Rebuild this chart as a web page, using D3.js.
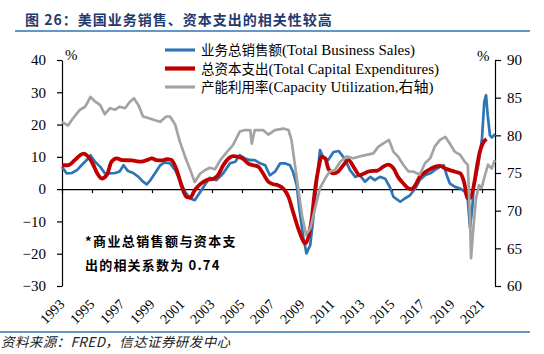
<!DOCTYPE html>
<html>
<head>
<meta charset="utf-8">
<title>美国业务销售、资本支出的相关性较高</title>
<script src="https://d3js.org/d3.v7.min.js"></script>
<style>
  body { margin: 0; background: #fff; }
  .axis text { font-family: "Liberation Serif", "Noto Sans CJK SC", serif; font-size: 15px; fill: #000; }
  .axis path, .axis line { stroke: #000; stroke-width: 1.2px; }
  .legend text { font-family: "Liberation Serif", "Noto Sans CJK SC", serif; font-size: 15px; }
</style>
</head>
<body>
<svg id="chart" width="544" height="354"></svg>
<script>
// 业务总销售额 同比 (%), 左轴
var salesYears = [1993.0,1993.3,1993.65,1994.0,1994.3,1994.65,1994.9,1995.2,1995.55,1995.85,1996.2,1996.55,1996.85,1997.1,1997.4,1997.75,1998.1,1998.4,1998.65,1998.9,1999.2,1999.55,1999.85,2000.2,2000.55,2000.85,2001.2,2001.55,2001.85,2002.2,2002.55,2002.85,2003.3,2003.75,2004.2,2004.55,2004.85,2005.2,2005.55,2005.85,2006.2,2006.55,2006.85,2007.2,2007.55,2007.85,2008.2,2008.4,2008.65,2008.85,2009.1,2009.3,2009.55,2009.75,2010.0,2010.2,2010.4,2010.75,2011.1,2011.45,2011.75,2011.9,2012.2,2012.55,2012.85,2013.2,2013.55,2013.85,2014.2,2014.55,2014.85,2015.1,2015.55,2015.85,2016.2,2016.55,2016.85,2017.2,2017.55,2017.85,2018.2,2018.45,2018.65,2018.85,2019.2,2019.55,2019.85,2020.05,2020.2,2020.35,2020.45,2020.75,2021.0,2021.15,2021.27,2021.38,2021.53,2021.65,2021.87];
var salesValues = [6.9,4.9,5.0,5.9,7.4,9.0,10.5,8.5,6.9,4.9,4.9,5.0,5.5,7.4,5.6,5.0,3.8,2.3,1.5,2.8,4.9,7.4,8.3,8.0,5.9,2.8,-0.8,-2.9,-3.4,-1.0,1.5,3.5,2.8,4.9,8.0,8.5,10.5,9.5,9.0,9.0,8.0,7.4,4.3,5.4,8.0,8.0,7.4,5.4,1.2,-7.0,-15.3,-19.9,-17.3,-9.1,3.3,12.1,10.0,9.0,11.5,11.8,10.0,9.0,5.9,3.8,4.3,2.3,3.8,2.8,3.8,3.2,0.7,-2.4,-3.9,-2.9,-1.9,0.2,2.8,4.3,4.9,5.9,6.9,7.4,4.3,1.8,0.7,0.2,-0.8,-3.0,-12.0,-6.0,1.0,7.4,15.7,27.0,29.1,22.9,16.7,16.0,17.0];

// 总资本支出 同比 (%), 左轴
var capexYears = [1993.0,1993.4,1993.85,1994.2,1994.45,1994.75,1995.1,1995.35,1995.65,1996.0,1996.3,1996.65,1997.0,1997.65,1998.3,1998.65,1999.0,1999.3,1999.65,2000.0,2000.3,2000.65,2001.0,2001.3,2001.55,2001.85,2002.2,2002.65,2003.1,2003.4,2003.75,2004.1,2004.4,2004.75,2005.1,2005.4,2005.75,2006.1,2006.4,2006.75,2007.1,2007.4,2007.75,2008.1,2008.4,2008.75,2009.0,2009.2,2009.4,2009.65,2009.85,2010.1,2010.3,2010.55,2010.75,2011.1,2011.4,2011.75,2012.1,2012.5,2012.85,2013.2,2013.55,2014.0,2014.4,2014.75,2015.1,2015.4,2015.75,2016.1,2016.3,2016.55,2016.85,2017.2,2017.55,2017.85,2018.2,2018.55,2018.85,2019.2,2019.55,2019.8,2020.05,2020.25,2020.5,2020.7,2020.85,2021.05,2021.3];
var capexValues = [7.4,7.4,9.0,10.5,11.0,10.0,7.4,4.9,3.3,4.5,8.5,9.5,9.0,8.9,8.5,9.0,9.5,9.0,8.9,9.3,9.0,5.9,0.7,-2.4,-2.6,-0.3,1.5,2.8,3.2,4.3,7.4,9.5,10.2,10.0,9.3,8.0,7.4,6.9,4.9,2.3,1.5,1.2,0.2,-2.4,-7.0,-12.2,-15.3,-16.8,-15.3,-9.1,-0.8,6.4,10.0,9.5,6.4,4.9,5.4,7.4,9.0,6.4,4.3,5.0,5.6,5.7,6.9,7.6,6.4,3.8,1.8,0.2,0.0,1.2,3.8,5.2,6.2,6.9,7.2,6.4,5.9,5.4,4.9,2.3,-2.9,-2.6,2.3,8.0,11.5,14.1,15.5];

// 产能利用率 (%), 右轴
var capYears = [1993.0,1993.4,1993.75,1994.2,1994.55,1994.9,1995.2,1995.55,1995.85,1996.2,1996.55,1996.85,1997.2,1997.55,1997.8,1998.1,1998.4,1998.75,1999.2,1999.55,1999.95,2000.2,2000.55,2000.85,2001.2,2001.55,2001.85,2002.2,2002.55,2002.85,2003.2,2003.55,2004.0,2004.4,2004.85,2005.2,2005.55,2005.65,2005.85,2006.4,2006.75,2007.2,2007.75,2008.1,2008.3,2008.65,2009.0,2009.27,2009.55,2009.87,2010.2,2010.55,2010.85,2011.2,2011.55,2012.0,2012.4,2012.85,2013.3,2013.75,2014.1,2014.4,2014.8,2015.1,2015.4,2015.75,2016.1,2016.4,2016.85,2017.2,2017.55,2017.85,2018.2,2018.55,2018.85,2019.2,2019.55,2019.85,2020.05,2020.2,2020.27,2020.42,2020.6,2020.8,2020.97,2021.2,2021.4,2021.65,2021.85];
var capValues = [81.8,81.3,82.3,83.4,83.8,85.1,84.5,84.0,82.8,83.6,83.4,83.8,83.6,84.5,84.9,84.0,82.5,82.3,82.0,81.8,82.5,82.5,81.4,79.2,77.2,75.4,73.8,74.9,75.4,75.7,75.5,76.7,77.8,78.7,80.5,80.7,80.7,78.9,80.7,80.7,80.1,80.7,80.9,80.7,79.4,74.3,69.4,66.8,67.6,70.3,73.0,74.3,75.2,75.4,76.5,77.2,76.95,77.2,77.4,77.6,78.5,78.9,79.4,77.8,77.2,76.1,75.2,75.2,74.8,76.3,76.95,78.5,79.4,79.8,78.9,77.8,77.4,76.5,76.1,69.0,63.7,67.6,71.6,73.4,73.0,74.7,76.1,75.6,76.7];

var yearTicks = [1993,1995,1997,1999,2001,2003,2005,2007,2009,2011,2013,2015,2017,2019,2021];
var leftTicks = [-30,-20,-10,0,10,20,30,40];
var rightTicks = [60,65,70,75,80,85,90];

var legendCn = ["业务总销售额", "总资本支出", "产能利用率"];
var legendEn = ["(Total Business Sales)", "(Total Capital Expenditures)", "(Capacity Utilization,右轴)"];
var colors = ["#2E75B6", "#C00000", "#A3A3A3"];
var widths = [2.7, 3.8, 2.7];

var svg = d3.select("#chart");
var plotLeft = 62, plotRight = 495, plotTop = 60, plotBottom = 286;

var x = d3.scaleLinear().domain([1993, 2021.867]).range([plotLeft, plotRight]);
var yL = d3.scaleLinear().domain([-30, 40]).range([plotBottom, plotTop]);
var yR = d3.scaleLinear().domain([60, 90]).range([plotBottom, plotTop]);

// title + rules
svg.append("text")
  .attr("x", 25).attr("y", 25)
  .style("font-family", "'Noto Sans CJK SC', sans-serif")
  .style("font-size", "14px").style("font-weight", "bold")
  .style("letter-spacing", "1px")
  .style("fill", "#1F3A6E")
  .text("图 26：美国业务销售、资本支出的相关性较高");
svg.append("line").attr("x1", 15).attr("x2", 530).attr("y1", 31).attr("y2", 31)
  .style("stroke", "#2E75B6").style("stroke-width", 1.5);
svg.append("line").attr("x1", 0).attr("x2", 530).attr("y1", 332).attr("y2", 332)
  .style("stroke", "#2E75B6").style("stroke-width", 1.5);
svg.append("text")
  .attr("x", 1).attr("y", 347)
  .style("font-family", "'Noto Sans CJK SC', sans-serif")
  .style("font-size", "13.5px").style("font-style", "italic")
  .style("letter-spacing", "0.4px")
  .style("fill", "#222")
  .text("资料来源：FRED，信达证券研发中心");

// axes
svg.append("g").attr("class", "axis")
  .attr("transform", "translate(" + plotLeft + ",0)")
  .call(d3.axisLeft(yL).tickValues(leftTicks).tickSize(5).tickSizeOuter(0).tickPadding(11));

svg.append("g").attr("class", "axis")
  .attr("transform", "translate(" + plotRight + ",0)")
  .call(d3.axisRight(yR).tickValues(rightTicks).tickSize(6).tickSizeOuter(0).tickPadding(6));

svg.append("g").attr("class", "axis")
  .attr("transform", "translate(0," + yL(0) + ")")
  .call(d3.axisBottom(x).tickValues(yearTicks).tickSize(4).tickSizeOuter(0).tickFormat(""));

var xlab = svg.append("g").attr("class", "axis")
  .attr("transform", "translate(0,296)")
  .call(d3.axisBottom(x).tickValues(yearTicks).tickSize(0).tickFormat(d3.format("d")));
xlab.select(".domain").remove();
xlab.selectAll("text")
  .style("font-size", "14px")
  .style("text-anchor", "end")
  .attr("dy", 0).attr("y", 0).attr("x", 0)
  .attr("transform", "translate(3,9) rotate(-45)");

svg.append("text").attr("x", 65).attr("y", 60)
  .style("font-family", "Liberation Serif").style("font-size", "15px").text("%");
svg.append("text").attr("x", 477).attr("y", 61)
  .style("font-family", "Liberation Serif").style("font-size", "15px").text("%");

// lines
var series = [
  { t: salesYears, v: salesValues, y: yL, curve: d3.curveLinear },
  { t: capexYears, v: capexValues, y: yL, curve: d3.curveMonotoneX },
  { t: capYears, v: capValues, y: yR, curve: d3.curveLinear }
];
series.forEach(function(s, i) {
  var line = d3.line()
    .x(function(d, j) { return x(s.t[j]); })
    .y(function(d) { return s.y(d); })
    .curve(s.curve);
  svg.append("path")
    .datum(s.v)
    .attr("d", line)
    .style("fill", "none")
    .style("stroke", colors[i])
    .style("stroke-width", widths[i])
    .style("stroke-linejoin", "round");
});

// legend
var legend = svg.append("g").attr("class", "legend");
legendCn.forEach(function(name, i) {
  var ly = 50 + i * 18.5;
  legend.append("line").attr("x1", 165).attr("x2", 195).attr("y1", ly).attr("y2", ly)
    .style("stroke", colors[i]).style("stroke-width", widths[i] + 0.4);
  var t = legend.append("text").attr("x", 201).attr("y", ly + 5);
  t.append("tspan").style("font-size", "13.5px").text(name);
  t.append("tspan").text(legendEn[i]);
});

// note
var note = svg.append("g")
  .style("font-family", "'Noto Sans CJK SC', sans-serif")
  .style("font-size", "13px").style("font-weight", "bold");
note.append("text").attr("x", 85).attr("y", 246).style("letter-spacing", "1.4px").text("*商业总销售额与资本支");
note.append("text").attr("x", 85).attr("y", 270).style("letter-spacing", "1.2px").text("出的相关系数为 0.74");
</script>
</body>
</html>
